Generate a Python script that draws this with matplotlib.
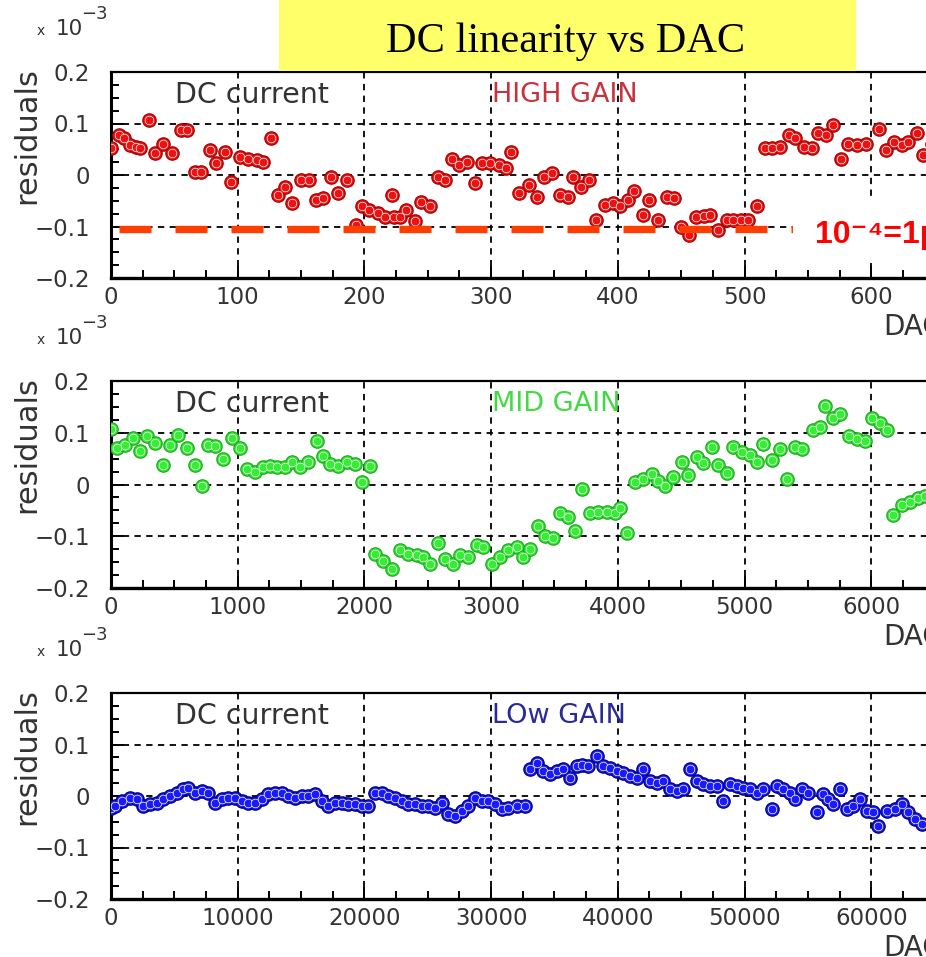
import matplotlib
matplotlib.use('Agg')
import matplotlib.pyplot as plt
from matplotlib.patches import Rectangle
from matplotlib.ticker import MultipleLocator

# residuals are stored in units of 1e-3
hg_dac = [0, 6, 10, 15, 20, 23, 30, 35, 41, 48, 55, 60, 66, 71, 78, 83, 90, 95,
          102, 108, 115, 120, 126, 132, 137, 143, 150, 156, 162, 167, 174, 179,
          186, 193, 198, 204, 211, 216, 222, 223, 228, 233, 240, 245, 252, 258,
          264, 269, 275, 281, 287, 293, 299, 306, 312, 316, 322, 330, 336, 342,
          348, 354, 361, 365, 371, 377, 383, 390, 396, 402, 408, 413, 420, 425,
          432, 439, 444, 450, 456, 462, 468, 473, 479, 486, 491, 497, 503, 510,
          516, 522, 528, 535, 540, 547, 553, 558, 564, 570, 576, 582, 589, 596,
          606, 612, 618, 624, 629, 636, 641, 648]
hg_res = [0.052, 0.077, 0.071, 0.058, 0.055, 0.052, 0.106, 0.042, 0.061, 0.042,
          0.087, 0.087, 0.006, 0.006, 0.048, 0.023, 0.045, -0.013, 0.035, 0.032,
          0.029, 0.026, 0.071, -0.039, -0.023, -0.055, -0.010, -0.010, -0.048,
          -0.045, -0.003, -0.035, -0.010, -0.097, -0.061, -0.068, -0.074, -0.081,
          -0.039, -0.081, -0.081, -0.068, -0.090, -0.052, -0.061, -0.003, -0.010,
          0.032, 0.019, 0.026, -0.016, 0.023, 0.023, 0.019, 0.013, 0.045, -0.035,
          -0.019, -0.042, -0.003, 0.003, -0.039, -0.042, -0.003, -0.023, -0.010,
          -0.087, -0.058, -0.055, -0.061, -0.048, -0.032, -0.077, -0.048, -0.087,
          -0.042, -0.045, -0.100, -0.116, -0.081, -0.079, -0.077, -0.106, -0.087,
          -0.087, -0.087, -0.087, -0.061, 0.052, 0.052, 0.055, 0.077, 0.071,
          0.055, 0.052, 0.081, 0.077, 0.097, 0.032, 0.061, 0.058, 0.061, 0.090,
          0.048, 0.065, 0.058, 0.065, 0.081, 0.039, 0.060]

mg_dac = [0, 45, 110, 176, 229, 282, 347, 413, 466, 532, 597, 663, 716, 768, 821,
          887, 952, 1018, 1071, 1137, 1203, 1255, 1308, 1374, 1426, 1492, 1558,
          1624, 1676, 1729, 1795, 1861, 1926, 1979, 2045, 2084, 2150, 2215, 2281,
          2347, 2413, 2465, 2518, 2584, 2637, 2703, 2755, 2820, 2887, 2940, 3005,
          3071, 3137, 3203, 3255, 3307, 3373, 3426, 3492, 3544, 3610, 3663, 3716,
          3781, 3847, 3913, 3979, 4018, 4071, 4136, 4202, 4268, 4321, 4373, 4439,
          4505, 4557, 4623, 4676, 4742, 4794, 4860, 4913, 4978, 5044, 5097, 5149,
          5215, 5281, 5333, 5399, 5452, 5544, 5597, 5636, 5702, 5755, 5821, 5887,
          5952, 6005, 6071, 6123, 6176, 6241, 6307, 6373, 6426]
mg_res = [0.108, 0.071, 0.077, 0.090, 0.064, 0.093, 0.080, 0.038, 0.077, 0.095,
          0.071, 0.038, -0.003, 0.077, 0.074, 0.049, 0.090, 0.071, 0.030, 0.024,
          0.033, 0.036, 0.033, 0.033, 0.043, 0.033, 0.043, 0.085, 0.056, 0.040,
          0.036, 0.043, 0.040, 0.004, 0.036, -0.134, -0.147, -0.164, -0.127,
          -0.134, -0.137, -0.141, -0.154, -0.114, -0.144, -0.154, -0.137, -0.140,
          -0.117, -0.120, -0.154, -0.141, -0.127, -0.120, -0.141, -0.124, -0.080,
          -0.100, -0.103, -0.056, -0.063, -0.090, -0.009, -0.056, -0.053, -0.053,
          -0.056, -0.046, -0.093, 0.004, 0.010, 0.020, 0.007, -0.002, 0.014,
          0.044, 0.019, 0.054, 0.041, 0.072, 0.038, 0.023, 0.072, 0.063, 0.057,
          0.044, 0.078, 0.048, 0.069, 0.010, 0.072, 0.069, 0.106, 0.112, 0.152,
          0.128, 0.137, 0.094, 0.088, 0.085, 0.128, 0.119, 0.106, -0.059, -0.039,
          -0.033, -0.026, -0.023]

lg_dac = [0, 316, 842, 1500, 2026, 2553, 3079, 3605, 4132, 4658, 5184, 5711,
          6105, 6632, 7158, 7684, 8211, 8737, 9263, 9789, 10316, 10842, 11368,
          11895, 12421, 12947, 13474, 14000, 14526, 15053, 15579, 16105, 16632,
          17158, 17684, 18211, 18737, 19263, 19789, 20316, 20842, 21368, 21895,
          22421, 22947, 23474, 24000, 24526, 25053, 25579, 26105, 26632, 27158,
          27684, 28211, 28737, 29263, 29789, 30316, 30842, 31368, 32026, 32677,
          33072, 33598, 34124, 34650, 35177, 35703, 36229, 36755, 37150, 37676,
          38334, 38861, 39387, 39913, 40439, 40965, 41492, 42018, 42544, 43070,
          43596, 44123, 44649, 45175, 45701, 46228, 46754, 47280, 47806, 48332,
          48859, 49385, 49911, 50437, 50963, 51490, 52148, 52542, 53068, 53594,
          53989, 54515, 55041, 55699, 56226, 56620, 57015, 57541, 58067, 58594,
          59120, 59646, 60172, 60567, 61225, 61883, 62409, 62935, 63461, 63988]
lg_res = [-0.023, -0.019, -0.010, -0.003, -0.006, -0.019, -0.016, -0.013, -0.006,
          0.000, 0.006, 0.013, 0.016, 0.006, 0.010, 0.006, -0.013, -0.006, -0.003,
          -0.003, -0.010, -0.013, -0.013, -0.006, 0.003, 0.006, 0.006, 0.000,
          -0.003, 0.000, 0.000, 0.003, -0.010, -0.019, -0.013, -0.013, -0.016,
          -0.016, -0.019, -0.019, 0.006, 0.006, 0.000, -0.003, -0.010, -0.016,
          -0.016, -0.019, -0.019, -0.023, -0.013, -0.035, -0.039, -0.029, -0.019,
          -0.003, -0.010, -0.010, -0.016, -0.026, -0.023, -0.019, -0.019, 0.052,
          0.065, 0.048, 0.042, 0.048, 0.052, 0.035, 0.058, 0.061, 0.058, 0.077,
          0.058, 0.055, 0.048, 0.045, 0.039, 0.035, 0.052, 0.029, 0.026, 0.029,
          0.013, 0.010, 0.013, 0.052, 0.029, 0.023, 0.019, 0.019, -0.010, 0.023,
          0.019, 0.016, 0.013, 0.006, 0.013, -0.026, 0.019, 0.013, 0.006, -0.006,
          0.013, 0.006, -0.032, 0.003, -0.006, -0.016, 0.013, -0.026, -0.019,
          -0.006, -0.029, -0.032, -0.058, -0.029, -0.026, -0.016, -0.032, -0.045,
          -0.055]

y_ticks = [-0.2, -0.1, 0.0, 0.1, 0.2]
y_ticklabels = ['\u22120.2', '\u22120.1', '0', '0.1', '0.2']
gain_names = ['HIGH GAIN', 'MID GAIN', 'LOw GAIN']
x_steps = [100, 1000, 10000]
ref_level = -0.105          # 10^-4 scale bar
ref_span = (6, 640)

W, H = 926, 957
PX_PER_STEP = 126.7         # pixels between major x ticks


def fx(px):
    return px / W


def fy(py):
    return 1 - py / H


fig = plt.figure(figsize=(W / 100, H / 100), dpi=100)
fig.patch.set_facecolor('white')

tops = [72, 381, 693]
bottoms = [278, 588, 899]
series = [(hg_dac, hg_res, '#ee1111', '#aa0000', '#c8323c'),
          (mg_dac, mg_res, '#33ee33', '#1fa81f', '#44d844'),
          (lg_dac, lg_res, '#1a1aff', '#000088', '#2a2a99')]

axes = []
for i in range(3):
    t, b = tops[i], bottoms[i]
    step = x_steps[i]
    xmax = 6.9 * step
    ax = fig.add_axes([fx(111), fy(b), 6.9 * PX_PER_STEP / W, (b - t) / H])
    dac, res, face, edge, lab_col = series[i]

    ax.plot(dac, res, 'o', ms=9.6, mfc=face, mec=edge, mew=0.9, ls='none', zorder=3)
    ax.plot(dac, res, 'o', ms=6.2, mfc=face, mec='white', mew=0.5, ls='none', zorder=4)

    ax.set_xlim(0, xmax)
    ax.set_ylim(-0.2, 0.2)
    ax.xaxis.set_major_locator(MultipleLocator(step))
    ax.xaxis.set_minor_locator(MultipleLocator(step / 4))
    ax.set_yticks(y_ticks)
    ax.set_yticklabels(y_ticklabels)
    ax.yaxis.set_minor_locator(MultipleLocator(0.025))
    ax.grid(True, which='major', color='black', ls=(0, (3.5, 3)), lw=1.3)
    ax.tick_params(which='both', direction='in', top=False, right=False,
                   width=1.4, labelsize=16.5, labelcolor='#333333')
    ax.tick_params(which='major', length=9)
    ax.tick_params(which='minor', length=5.5)
    ax.tick_params(axis='x', pad=6)
    ax.tick_params(axis='y', pad=15)
    ax.spines['left'].set_linewidth(2.2)
    ax.spines['bottom'].set_linewidth(2.4)
    ax.spines['top'].set_linewidth(1.6)
    ax.spines['right'].set_visible(False)

    # axis decorations in the PAW style
    fig.text(fx(41), fy(t - 37), 'x', fontsize=10, color='#333333', ha='center', va='baseline')
    fig.text(fx(56), fy(t - 37), '10', fontsize=15.5, color='#333333', va='baseline')
    fig.text(fx(81), fy(t - 53), '\u22123', fontsize=13, color='#333333', va='baseline')
    fig.text(fx(27), fy(t + 64), 'residuals', fontsize=22, color='#333333',
             rotation=90, ha='center', va='center')
    fig.text(fx(175), fy(t + 31), 'DC current', fontsize=20.5, color='#333333', va='baseline')
    fig.text(fx(492), fy(t + 30), gain_names[i], fontsize=19.5, color=lab_col, va='baseline')
    fig.text(fx(883), fy(b + 57), 'DAC', fontsize=20, color='#333333', va='baseline')
    axes.append(ax)

# 10^-4 reference bar on the high gain panel
axes[0].plot(ref_span, [ref_level, ref_level], color='#ff3d00', lw=5.25,
             ls=(0, (4.39, 3.29)), solid_capstyle='butt', zorder=5)
fig.add_artist(Rectangle((fx(793), fy(263)), 0.2, 66 / H, transform=fig.transFigure,
                         facecolor='white', edgecolor='none', zorder=5))
fig.text(fx(815), fy(243), '10\u207b\u2074=1pour dix mille', fontsize=23, fontweight='bold',
         color='#ff0000', va='baseline', family=['Liberation Sans', 'DejaVu Sans'], zorder=6)

# title banner
fig.add_artist(Rectangle((fx(279), fy(71)), (856 - 279) / W, 71 / H, transform=fig.transFigure,
                         facecolor='#ffff6a', edgecolor='none', zorder=1))
fig.text(fx(566), fy(52), 'DC linearity vs DAC', fontsize=30.5, family='Liberation Serif',
         ha='center', va='baseline', color='black', zorder=2)

fig.savefig('out.png', dpi=100)
